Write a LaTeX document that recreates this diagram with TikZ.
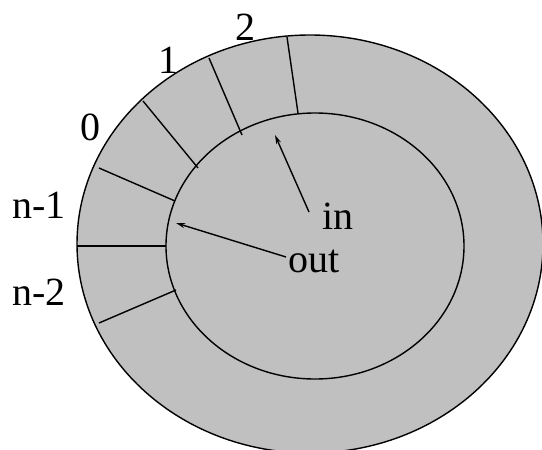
\documentclass[tikz,border=0pt]{standalone}
\usepackage{fontspec}
\setmainfont{Liberation Serif}
\usetikzlibrary{arrows.meta}

\begin{document}
\begin{tikzpicture}[
    x=1pt, y=-1pt,
    ring/.style={draw, line width=1.4pt, fill=ringgray},
    sep/.style={line width=1.4pt},
    lbl/.style={anchor=base west, inner sep=0pt, font=\fontsize{40}{44}\selectfont},
    arr/.style={-{Stealth[length=9pt, width=5pt]}, line width=1.4pt}
]
\definecolor{ringgray}{RGB}{192,192,192}
\clip (0,0) rectangle (542,450);
\useasboundingbox (0,0) rectangle (542,450);
% buffer ring
\draw[ring] (310,244) ellipse [x radius=233, y radius=209];
\draw[ring] (315,246) ellipse [x radius=149, y radius=133];
% slot separators
\coordinate (o1) at (287,37);  \coordinate (i1) at (298,113);
\coordinate (o2) at (209,58);  \coordinate (i2) at (242,135);
\coordinate (o3) at (143,101); \coordinate (i3) at (198,168);
\coordinate (o4) at (99,168);  \coordinate (i4) at (175,201);
\coordinate (o5) at (77,246);  \coordinate (i5) at (166,246);
\coordinate (o6) at (99,323);  \coordinate (i6) at (176,290);
\foreach \k in {1,...,6}
    \draw[sep] (o\k) -- (i\k);
% slot labels
\node[lbl] (l2)  at (235,40)  {2};
\node[lbl] (l1)  at (158,73)  {1};
\node[lbl] (l0)  at (80,140)  {0};
\node[lbl] (ln1) at (12,218)  {n-1};
\node[lbl] (ln2) at (12,305)  {n-2};
% pointers
\node[lbl] (in)  at (322,229) {in};
\node[lbl] (out) at (288,272) {out};
\coordinate (intail)  at (309,212);
\coordinate (inhead)  at (275,135);
\coordinate (outtail) at (286,257);
\coordinate (outhead) at (176,223);
\draw[arr] (intail) -- (inhead);
\draw[arr] (outtail) -- (outhead);
\end{tikzpicture}
\end{document}
